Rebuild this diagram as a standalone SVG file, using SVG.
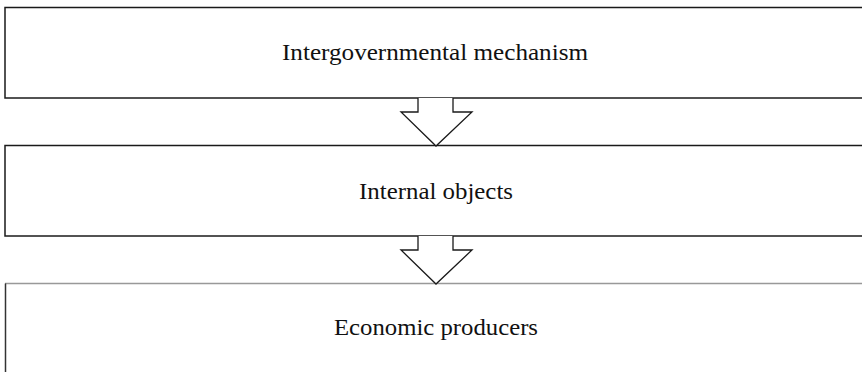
<svg xmlns="http://www.w3.org/2000/svg" width="862" height="372" viewBox="0 0 862 372">
<style>
.box{fill:#fff;stroke:#1a1a1a;stroke-width:1.5}
.lbl{font-family:'Liberation Serif','Times New Roman',Times,serif;font-size:24px;fill:#111}
.arr{fill:#fff;stroke:#1a1a1a;stroke-width:1.3;stroke-linejoin:miter}
</style>
<rect width="862" height="372" fill="#fff"/>
<g id="node1">
<rect class="box" x="5" y="7.5" width="870" height="90.5"/>
<text class="lbl" x="282" y="60" textLength="306" lengthAdjust="spacingAndGlyphs">Intergovernmental mechanism</text>
</g>
<g id="node2">
<rect class="box" x="5" y="145.5" width="870" height="90.5"/>
<text class="lbl" x="359" y="198.5" textLength="154" lengthAdjust="spacingAndGlyphs">Internal objects</text>
</g>
<g id="node3">
<line x1="5" y1="283.5" x2="862" y2="283.5" stroke="#999" stroke-width="1.5"/>
<line x1="5.5" y1="283.5" x2="5.5" y2="372" stroke="#333" stroke-width="1.5"/>
<text class="lbl" x="334" y="334.5" textLength="204" lengthAdjust="spacingAndGlyphs">Economic producers</text>
</g>
<g id="connectors">
<polyline class="arr" points="418,98 418,112 401,112 436,146 472,112 453,112 453,98"/>
<polyline class="arr" points="418,236 418,250 401,250 436,284 472,250 453,250 453,236"/>
</g>
</svg>
